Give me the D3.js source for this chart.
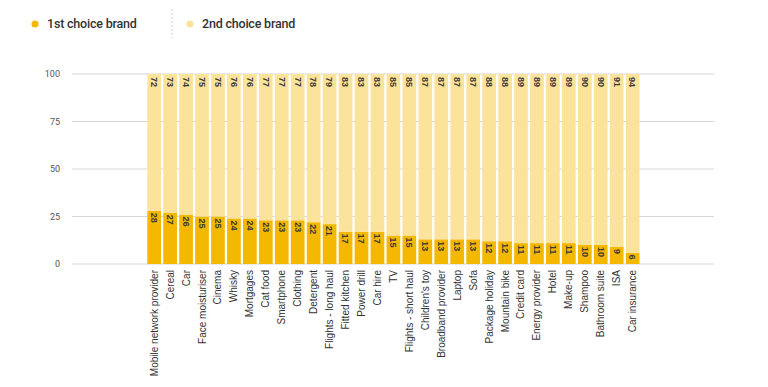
<!DOCTYPE html>
<html>
<head>
<meta charset="utf-8">
<script src="https://cdn.jsdelivr.net/npm/d3@7"></script>
<style>
  body { margin: 0; background: #fff; }
  svg { display: block; }
</style>
</head>
<body>
<div class="chart"></div>
<script>
const categories = [
  'Mobile network provider', 'Cereal', 'Car', 'Face moisturiser', 'Cinema', 'Whisky',
  'Mortgages', 'Cat food', 'Smartphone', 'Clothing', 'Detergent', 'Flights - long haul',
  'Fitted kitchen', 'Power drill', 'Car hire', 'TV', 'Flights - short haul', "Children's toy",
  'Broadband provider', 'Laptop', 'Sofa', 'Package holiday', 'Mountain bike', 'Credit card',
  'Energy provider', 'Hotel', 'Make-up', 'Shampoo', 'Bathroom suite', 'ISA', 'Car insurance'
];
const firstChoice = [28, 27, 26, 25, 25, 24, 24, 23, 23, 23, 22, 21, 17, 17, 17, 15, 15, 13, 13, 13, 13, 12, 12, 11, 11, 11, 11, 10, 10, 9, 6];
const secondChoice = [72, 73, 74, 75, 75, 76, 76, 77, 77, 77, 78, 79, 83, 83, 83, 85, 85, 87, 87, 87, 87, 88, 88, 89, 89, 89, 89, 90, 90, 91, 94];
const yTicks = [0, 25, 50, 75, 100];
const seriesNames = ['1st choice brand', '2nd choice brand'];

const width = 768;
const height = 387;
const colors = ['#f5b800', '#fce39c'];

const data = categories.map((c, i) => ({ cat: c, first: firstChoice[i], second: secondChoice[i] }));

const svg = d3.select('.chart')
  .append('svg')
  .attr('width', width)
  .attr('height', height)
  .style('font-family', '"Liberation Sans", Arial, sans-serif');

const x = d3.scaleBand()
  .domain(categories)
  .range([147.3, 639.5])
  .paddingInner(0.14)
  .paddingOuter(0);

const y = d3.scaleLinear()
  .domain([0, 100])
  .range([264, 74]);

// gridlines + tick labels
svg.append('g')
  .selectAll('line')
  .data(yTicks)
  .enter()
  .append('line')
  .attr('x1', 72)
  .attr('x2', 714)
  .attr('y1', (d) => y(d))
  .attr('y2', (d) => y(d))
  .attr('stroke', '#d6d6d6')
  .attr('stroke-width', 1);

svg.append('g')
  .selectAll('text')
  .data(yTicks)
  .enter()
  .append('text')
  .attr('x', 60)
  .attr('y', (d) => y(d))
  .attr('dy', '0.35em')
  .attr('text-anchor', 'end')
  .attr('font-family', 'Roboto, sans-serif')
  .attr('font-size', 9)
  .attr('fill', '#555')
  .text((d) => d);

// stacked bars
const bars = svg.append('g');
bars.selectAll('rect.first')
  .data(data)
  .enter()
  .append('rect')
  .attr('class', 'first')
  .attr('x', (d) => x(d.cat))
  .attr('width', x.bandwidth())
  .attr('y', (d) => y(d.first))
  .attr('height', (d) => y(0) - y(d.first))
  .attr('fill', colors[0]);

bars.selectAll('rect.second')
  .data(data)
  .enter()
  .append('rect')
  .attr('class', 'second')
  .attr('x', (d) => x(d.cat))
  .attr('width', x.bandwidth())
  .attr('y', (d) => y(d.first + d.second))
  .attr('height', (d) => y(d.first) - y(d.first + d.second))
  .attr('fill', colors[1]);

// value labels, rotated
const labels = svg.append('g')
  .attr('font-size', 9)
  .attr('font-weight', 'bold')
  .attr('fill', '#3a3a3a');

labels.selectAll('text.second')
  .data(data)
  .enter()
  .append('text')
  .attr('transform', (d) => 'translate(' + (x(d.cat) + x.bandwidth() / 2) + ',' + (y(d.first + d.second) + 3) + ') rotate(90)')
  .attr('dy', '0.35em')
  .attr('text-anchor', 'start')
  .text((d) => d.second);

labels.selectAll('text.first')
  .data(data)
  .enter()
  .append('text')
  .attr('transform', (d) => 'translate(' + (x(d.cat) + x.bandwidth() / 2) + ',' + (y(d.first) + 2) + ') rotate(90)')
  .attr('dy', '0.35em')
  .attr('text-anchor', 'start')
  .text((d) => d.first);

// category labels
svg.append('g')
  .selectAll('text')
  .data(categories)
  .enter()
  .append('text')
  .attr('transform', (d) => 'translate(' + (x(d) + x.bandwidth() / 2) + ',270) rotate(-90)')
  .attr('dy', '0.35em')
  .attr('text-anchor', 'end')
  .attr('font-size', 10)
  .attr('fill', '#333')
  .text((d) => d);

// legend
const legend = svg.append('g').attr('font-family', 'Roboto, sans-serif');
const legendX = [35, 190];
legend.selectAll('circle')
  .data(seriesNames)
  .enter()
  .append('circle')
  .attr('cx', (d, i) => legendX[i])
  .attr('cy', 24)
  .attr('r', 3.5)
  .attr('fill', (d, i) => colors[i]);

legend.selectAll('text')
  .data(seriesNames)
  .enter()
  .append('text')
  .attr('x', (d, i) => legendX[i] + 12)
  .attr('y', 24)
  .attr('dy', '0.35em')
  .attr('font-size', 12.5)
  .attr('font-weight', 500)
  .attr('letter-spacing', -0.2)
  .attr('fill', '#333')
  .text((d) => d);

legend.append('line')
  .attr('x1', 172)
  .attr('x2', 172)
  .attr('y1', 9)
  .attr('y2', 38)
  .attr('stroke', '#ccc')
  .attr('stroke-dasharray', '2,2');
</script>
</body>
</html>
